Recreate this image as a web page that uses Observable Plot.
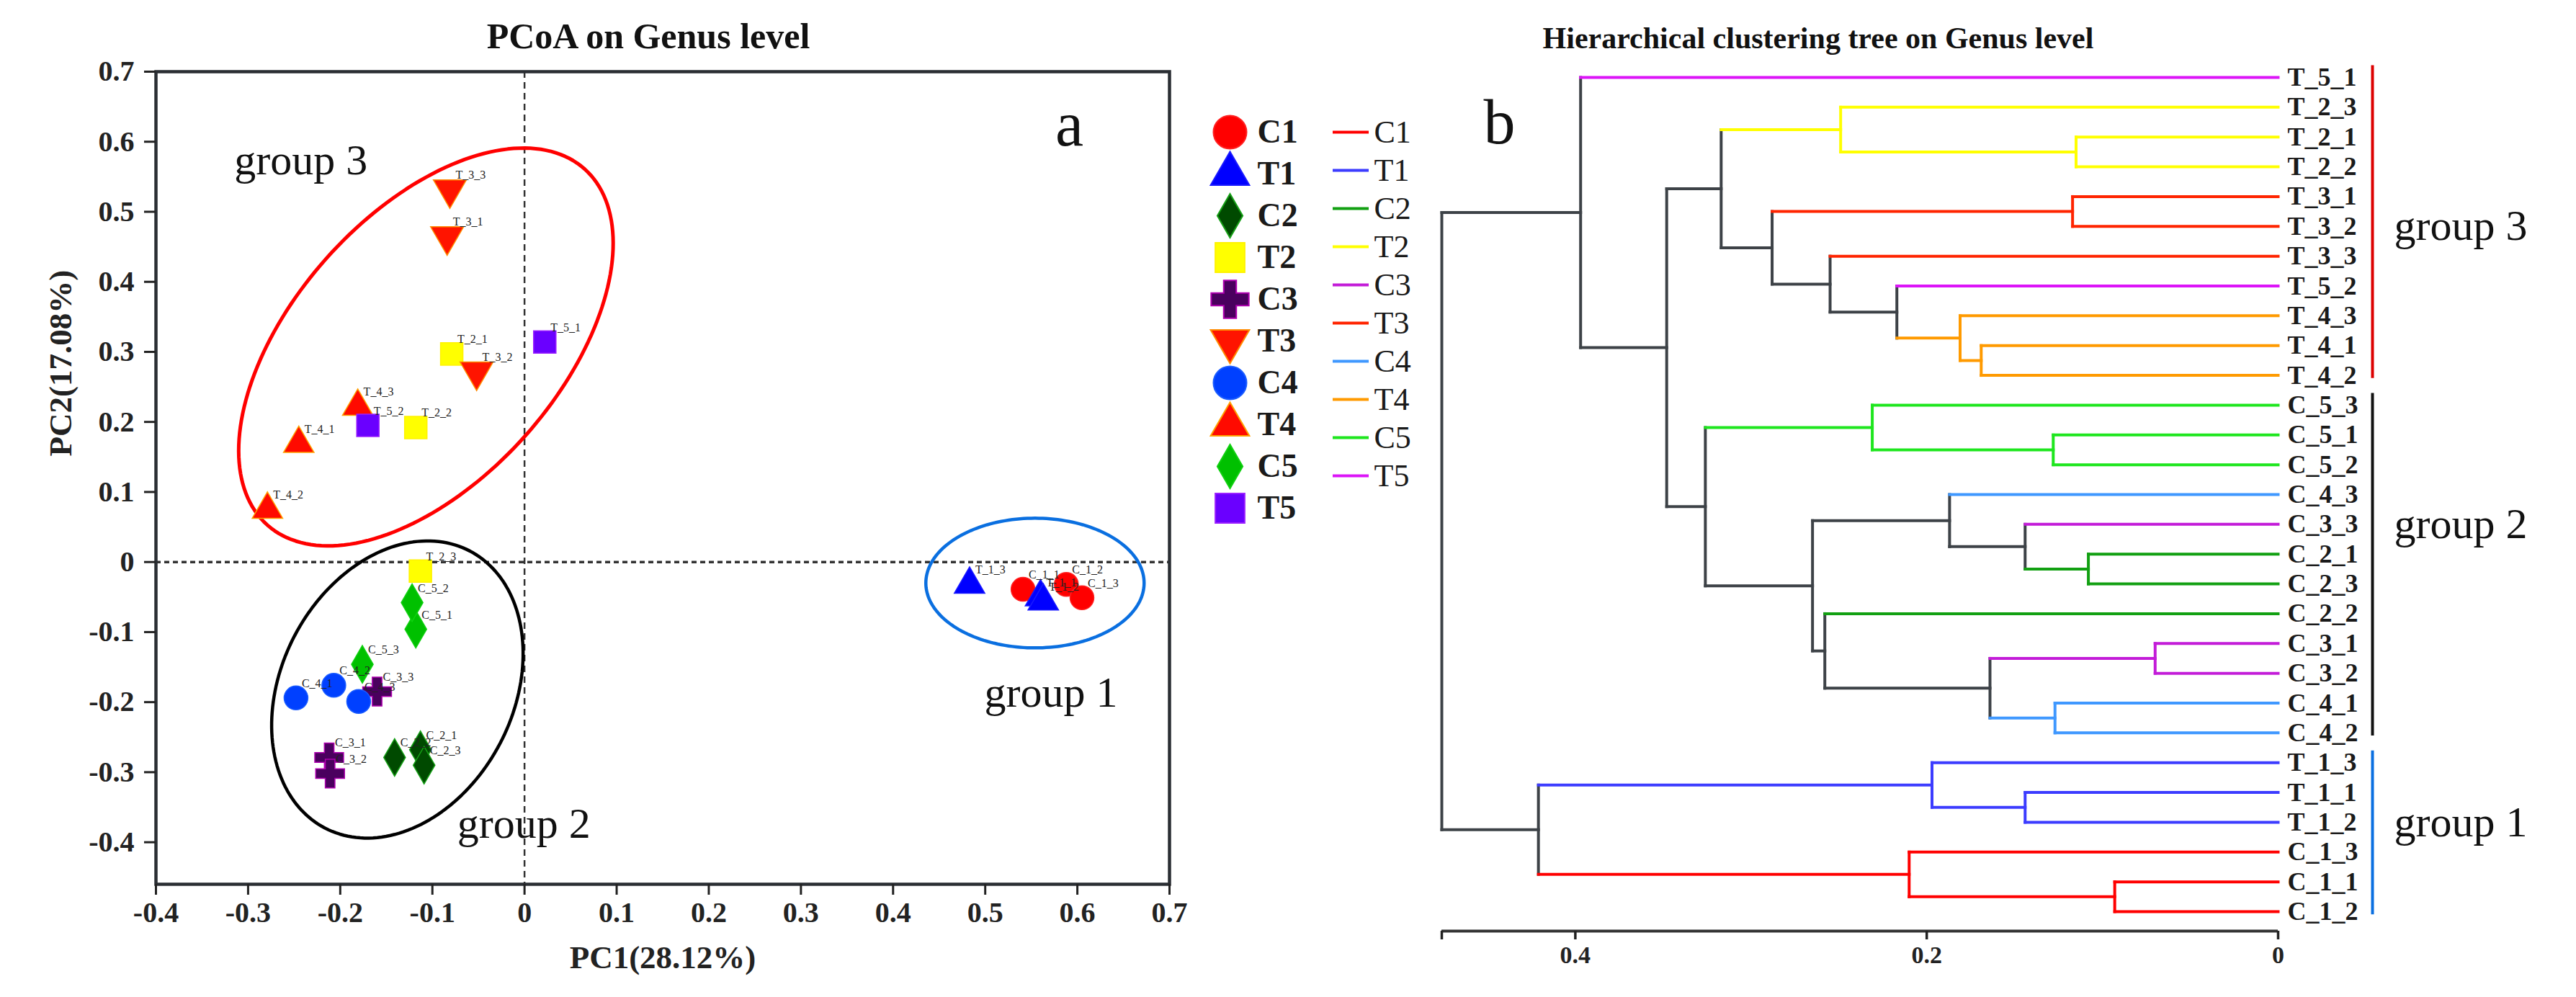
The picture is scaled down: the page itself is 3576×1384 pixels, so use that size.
<!DOCTYPE html>
<html>
<head>
<meta charset="utf-8">
<script src="https://cdn.jsdelivr.net/npm/d3@7"></script>
<script src="https://cdn.jsdelivr.net/npm/@observablehq/plot@0.6"></script>
<style>
html, body { margin: 0; padding: 0; background: #fff; }
#root { position: relative; width: 3576px; height: 1384px; overflow: hidden; background: #fff;
  font-family: "Liberation Serif", "Times New Roman", serif; color: #111; }
.abs { position: absolute; }
#root svg { max-width: none !important; background: transparent !important; overflow: visible; }
.title { position: absolute; font-weight: bold; line-height: 1; text-align: center; white-space: nowrap; }
</style>
</head>
<body>
<div id="root"></div>
<script>
// ---------------- data ----------------
const groups      = ["C1","T1","C2","T2","C3","T3","C4","T4","C5","T5"];
const pointShape  = ["circle","triangle","diamond","square","cross","triangleDown","circle","triangle","diamond","square"];
const pointFill   = ["#ff0000","#0000ff","#004a00","#ffff00","#4a005e","#ff1400","#0040ff","#ff0a00","#00c000","#6a00ff"];
const pointStroke = ["#ff2020","#1a1aff","#16a016","#fff200","#b000b0","#ff8a00","#1a5cff","#ffa000","#10d010","#9a20ff"];
const treeColor   = ["#ff0000","#3c3cff","#12a012","#ffff00","#c31cd8","#ff2400","#3f98ff","#ff9a00","#1ee61e","#dc14f8"];

const sampleNames = ["C_1_1","C_1_2","C_1_3","T_1_1","T_1_2","T_1_3",
  "C_2_1","C_2_2","C_2_3","T_2_1","T_2_2","T_2_3",
  "C_3_1","C_3_2","C_3_3","T_3_1","T_3_2","T_3_3",
  "C_4_1","C_4_2","C_4_3","T_4_1","T_4_2","T_4_3",
  "C_5_1","C_5_2","C_5_3","T_5_1","T_5_2"];
const pc1 = [0.541, 0.588, 0.605, 0.560, 0.563, 0.483,
  -0.113, -0.141, -0.109, -0.079, -0.118, -0.113,
  -0.212, -0.211, -0.160, -0.084, -0.052, -0.081,
  -0.248, -0.207, -0.180, -0.245, -0.279, -0.181,
  -0.118, -0.122, -0.176, 0.022, -0.170];
const pc2 = [-0.039, -0.032, -0.051, -0.050, -0.056, -0.032,
  -0.268, -0.279, -0.290, 0.297, 0.192, -0.013,
  -0.279, -0.302, -0.185, 0.465, 0.272, 0.532,
  -0.194, -0.176, -0.199, 0.169, 0.075, 0.222,
  -0.096, -0.058, -0.146, 0.314, 0.195];

const pcoaXTicks = [-0.4,-0.3,-0.2,-0.1,0,0.1,0.2,0.3,0.4,0.5,0.6,0.7];
const pcoaYTicks = [-0.4,-0.3,-0.2,-0.1,0,0.1,0.2,0.3,0.4,0.5,0.6,0.7];

// dendrogram: leaf order (top to bottom) and merges [id, childA, childB, height]
const leaves = ["T_5_1","T_2_3","T_2_1","T_2_2","T_3_1","T_3_2","T_3_3","T_5_2","T_4_3","T_4_1","T_4_2",
  "C_5_3","C_5_1","C_5_2","C_4_3","C_3_3","C_2_1","C_2_3","C_2_2","C_3_1","C_3_2","C_4_1","C_4_2",
  "T_1_3","T_1_1","T_1_2","C_1_3","C_1_1","C_1_2"];
const treeMerges = [
  ["m1","T_2_1","T_2_2",0.115], ["m2","T_2_3","m1",0.249],
  ["m3","T_3_1","T_3_2",0.117], ["m4","T_4_1","T_4_2",0.169],
  ["m5","T_4_3","m4",0.181], ["m6","T_5_2","m5",0.217],
  ["m7","T_3_3","m6",0.255], ["m8","m3","m7",0.288],
  ["m9","m2","m8",0.317], ["m10","C_5_1","C_5_2",0.128],
  ["m11","C_5_3","m10",0.231], ["m12","C_2_1","C_2_3",0.108],
  ["m13","C_3_3","m12",0.144], ["m14","C_4_3","m13",0.187],
  ["m15","C_3_1","C_3_2",0.070], ["m16","C_4_1","C_4_2",0.127],
  ["m17","m15","m16",0.164], ["m18","C_2_2","m17",0.258],
  ["m19","m14","m18",0.265], ["m20","m11","m19",0.326],
  ["m21","m9","m20",0.348], ["m22","T_5_1","m21",0.397],
  ["m23","T_1_1","T_1_2",0.144], ["m24","T_1_3","m23",0.197],
  ["m25","C_1_1","C_1_2",0.093], ["m26","C_1_3","m25",0.210],
  ["m27","m24","m26",0.421], ["m28","m22","m27",0.476]
];
const treeTicks = [0.476, 0.4, 0.2, 0];
const treeTickLabels = ["", "0.4", "0.2", "0"];

const clusterNames = ["group 3","group 2","group 1"];
const clusterFirst = ["T_5_1","C_5_3","T_1_3"];
const clusterLast  = ["T_4_2","C_4_2","C_1_2"];
const clusterLabelAt = ["T_3_2","C_3_3","T_1_2"];
const clusterColor = ["#dd0000","#111111","#0a6fe0"];

// ---------------- layout / style ----------------
const FONT = "Liberation Serif, Times New Roman, serif";
const H = 1384;
const sqrt3 = Math.sqrt(3);
const symbolTriangleDown = { draw(ctx, size) {
  const y = Math.sqrt(size / (sqrt3 * 3));
  ctx.moveTo(0, y * 2); ctx.lineTo(-sqrt3 * y, -y); ctx.lineTo(sqrt3 * y, -y); ctx.closePath(); } };
const symbols = { circle: d3.symbolCircle, triangle: d3.symbolTriangle, triangleDown: symbolTriangleDown,
  diamond: d3.symbolDiamond, square: d3.symbolSquare, cross: d3.symbolCross };
const plotR = { circle: 16.5, triangle: 15.7, triangleDown: 17, diamond: 15.8, square: 17.5, cross: 16.8 };
const legendR = { circle: 23, triangle: 20, triangleDown: 20, diamond: 18.5, square: 23, cross: 22 };
const GRAY = "#3d4247";

const root = document.getElementById("root");
function place(node, left, top) {
  const d = document.createElement("div");
  d.className = "abs"; d.style.left = left + "px"; d.style.top = top + "px";
  d.appendChild(node); root.appendChild(d); return d;
}
function title(text, centerX, baseline, size) {
  const d = document.createElement("div");
  d.className = "title"; d.textContent = text;
  d.style.fontSize = size + "px"; d.style.width = "1400px";
  d.style.left = (centerX - 700) + "px"; d.style.top = (baseline - 0.8375 * size) + "px";
  root.appendChild(d);
}

// ---------------- PCoA chart ----------------
const W_A = 1700;
const mA = {top: 99, right: 77, bottom: 157, left: 216};
const xDomA = [-0.4, 0.7], yDomA = [-0.46, 0.7];
const kx = (W_A - mA.left - mA.right) / (xDomA[1] - xDomA[0]);
const ky = (H - mA.top - mA.bottom) / (yDomA[1] - yDomA[0]);

// confidence ellipses (centre in data units, semi-axes in px, angle in degrees)
const ellipses = [
  {cx: -0.107, cy: 0.307, a: 331, b: 185, angle: 48.3, color: "#ff0000", width: 5},
  {cx: -0.138, cy: -0.182, a: 217, b: 161, angle: 62.4, color: "#000000", width: 4.5},
  {cx: 0.554, cy: -0.030, a: 151.5, b: 90, angle: 0, color: "#0a6fe0", width: 4.5}
];
function ellipsePoints(e) {
  const th = e.angle * Math.PI / 180;
  return d3.range(0, 361, 2).map(t => {
    const r = t * Math.PI / 180, u = e.a * Math.cos(r), v = e.b * Math.sin(r);
    return {x: e.cx + (u * Math.cos(th) - v * Math.sin(th)) / kx,
            y: e.cy + (u * Math.sin(th) + v * Math.cos(th)) / ky};
  });
}
const annotationsA = [
  {text: "group 3", x: -0.315, y: 0.553, size: 60},
  {text: "group 2", x: -0.073, y: -0.394, size: 60},
  {text: "group 1", x: 0.499, y: -0.207, size: 60},
  {text: "a", x: 0.576, y: 0.595, size: 88}
];

const samples = sampleNames.map((name, i) => ({name, group: name[0] + name[2], x: pc1[i], y: pc2[i]}));
const fmt1 = d => d === 0 ? "0" : d.toFixed(1);

const marksA = [
  Plot.ruleX([0], {stroke: "#333", strokeWidth: 2.5, strokeDasharray: "9,6"}),
  Plot.ruleY([0], {stroke: "#333", strokeWidth: 3.5, strokeDasharray: "7,5"}),
  ...ellipses.map(e => Plot.line(ellipsePoints(e), {x: "x", y: "y", stroke: e.color, strokeWidth: e.width})),
  ...groups.map((g, gi) => Plot.dot(samples.filter(d => d.group === g), {
    x: "x", y: "y", symbol: symbols[pointShape[gi]], r: plotR[pointShape[gi]],
    fill: pointFill[gi], stroke: pointStroke[gi], strokeWidth: 1.5})),
  Plot.text(samples, {x: "x", y: "y", text: "name", dx: 8, dy: -15, textAnchor: "start", lineAnchor: "bottom",
    fontSize: 16, fontWeight: "normal", fill: "#222"}),
  ...annotationsA.map(a => Plot.text([a], {x: "x", y: "y", text: "text", textAnchor: "start", lineAnchor: "bottom",
    fontSize: a.size, fontWeight: "normal", fill: "#111"})),
  Plot.frame({stroke: "#2a2e33", strokeWidth: 4.5}),
  Plot.axisX({ticks: pcoaXTicks, tickFormat: fmt1, tickSize: 15, tickPadding: 9, strokeWidth: 3, label: null}),
  Plot.axisY({ticks: pcoaYTicks, tickFormat: fmt1, tickSize: 16, tickPadding: 14, strokeWidth: 3, label: null}),
  Plot.text(["PC1(28.12%)"], {text: d => d, frameAnchor: "bottom", dy: 116, lineAnchor: "bottom",
    fontSize: 45, fontWeight: "bold"}),
  Plot.text(["PC2(17.08%)"], {text: d => d, frameAnchor: "left", rotate: -90, dx: -132, dy: -30,
    fontSize: 45, fontWeight: "bold"})
];
const chartA = Plot.plot({
  width: W_A, height: H,
  marginTop: mA.top, marginRight: mA.right, marginBottom: mA.bottom, marginLeft: mA.left,
  x: {domain: xDomA, label: null}, y: {domain: yDomA, label: null},
  style: {fontFamily: FONT, fontSize: "40px", fontWeight: "bold", color: "#222", background: "transparent"},
  marks: marksA
});
place(chartA, 0, 0);
title("PCoA on Genus level", 900, 67, 50);

// ---------------- legend (symbols) ----------------
const legendA = Plot.plot({
  width: 240, height: 690, margin: 0,
  x: {domain: [0, 1], range: [57, 200], axis: null},
  y: {type: "point", domain: groups, range: [53, 634], axis: null},
  style: {fontFamily: FONT, background: "transparent"},
  marks: [
    ...groups.map((g, gi) => Plot.dot([g], {x: 0, y: d => d, symbol: symbols[pointShape[gi]],
      r: legendR[pointShape[gi]], fill: pointFill[gi], stroke: pointStroke[gi], strokeWidth: 2})),
    Plot.text(groups, {x: 0, y: d => d, text: d => d, dx: 38, textAnchor: "start", fontSize: 46,
      fontWeight: "bold", fill: "#1a1a1a"})
  ]
});
place(legendA, 1650, 100);

// ---------------- legend (lines) ----------------
const legendB = Plot.plot({
  width: 160, height: 690, margin: 0,
  x: {domain: [0, 1], range: [20, 70], axis: null},
  y: {type: "point", domain: groups, range: [56, 587], axis: null},
  style: {fontFamily: FONT, background: "transparent"},
  marks: [
    ...groups.map((g, gi) => Plot.ruleY([g], {y: d => d, x1: 0, x2: 1, stroke: treeColor[gi], strokeWidth: 4})),
    Plot.text(groups, {x: 1, y: d => d, text: d => d, dx: 7, textAnchor: "start", fontSize: 44,
      fontWeight: "normal", fill: "#1a1a1a"})
  ]
});
place(legendB, 1830, 100);

// ---------------- dendrogram ----------------
const leftB = 1990, W_B = 3576 - leftB;
const mB = {top: 107, right: 414, bottom: 92, left: 11};
const xDomB = [treeTicks[0], 0];
const axisGap = 0.653;
const yDomB = [0, leaves.length - 1 + axisGap];

const nodes = new Map();
leaves.forEach((name, i) => nodes.set(name, {y: i, h: 0, group: name[0] + name[2]}));
const segments = [];
for (const [id, a, b, h] of treeMerges) {
  const A = nodes.get(a), B = nodes.get(b);
  const node = {y: (A.y + B.y) / 2, h, group: A.group && A.group === B.group ? A.group : null};
  nodes.set(id, node);
  const col = g => g ? treeColor[groups.indexOf(g)] : GRAY;
  segments.push({x1: h, y1: A.y, x2: h, y2: B.y, color: col(node.group)});
  for (const C of [A, B]) segments.push({x1: h, y1: C.y, x2: C.h, y2: C.y, color: col(C.group)});
}
const grayFirst = segments.filter(s => s.color === GRAY).concat(segments.filter(s => s.color !== GRAY));
const clusters = clusterNames.map((name, i) => ({name, color: clusterColor[i],
  y1: leaves.indexOf(clusterFirst[i]) - 0.4, y2: leaves.indexOf(clusterLast[i]) + 0.1,
  ly: leaves.indexOf(clusterLabelAt[i])}));

const chartB = Plot.plot({
  width: W_B, height: H,
  marginTop: mB.top, marginRight: mB.right, marginBottom: mB.bottom, marginLeft: mB.left,
  x: {domain: xDomB, label: null}, y: {domain: yDomB, reverse: true, axis: null},
  style: {fontFamily: FONT, fontSize: "34px", fontWeight: "bold", color: "#222", background: "transparent"},
  marks: [
    Plot.link(grayFirst, {x1: "x1", y1: "y1", x2: "x2", y2: "y2", stroke: d => d.color,
      strokeWidth: 4, strokeLinecap: "square"}),
    Plot.text(leaves, {x: 0, y: (d, i) => i, text: d => d, dx: 13, textAnchor: "start",
      fontSize: 36, fontWeight: "bold", fill: "#1a1a1a"}),
    Plot.ruleX(clusters, {x: 0, dx: 131, y1: "y1", y2: "y2", stroke: "color", strokeWidth: 4}),
    Plot.text(clusters, {x: 0, dx: 161, y: "ly", text: "name", textAnchor: "start",
      fontSize: 60, fontWeight: "normal", fill: "#111"}),
    Plot.text(["b"], {text: d => d, frameAnchor: "top-left", dx: 58, dy: 91, lineAnchor: "bottom",
      textAnchor: "start", fontSize: 88, fontWeight: "normal", fill: "#111"}),
    Plot.ruleY([yDomB[1]], {x1: xDomB[0], x2: xDomB[1], stroke: "#333", strokeWidth: 4}),
    Plot.axisX({ticks: treeTicks, tickFormat: (d, i) => treeTickLabels[treeTicks.indexOf(d)],
      tickSize: 12, tickPadding: 8, strokeWidth: 3.5, label: null})
  ],
  color: {type: "identity"}
});
place(chartB, leftB, 0);
title("Hierarchical clustering tree on Genus level", 2524, 67, 42);
</script>
</body>
</html>
